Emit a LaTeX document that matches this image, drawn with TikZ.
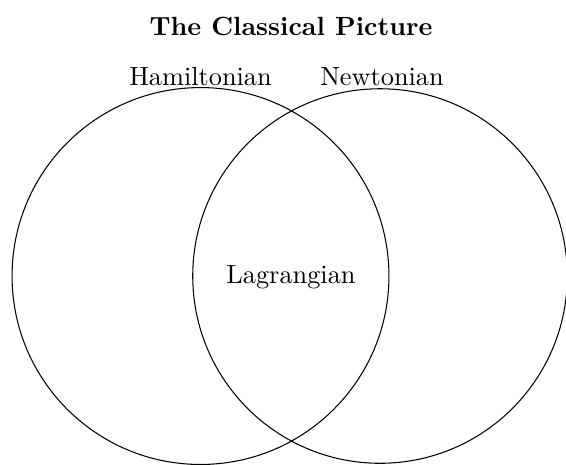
\documentclass[tikz,border=0pt]{standalone}
\begin{document}
\begin{tikzpicture}[x=0.3802pt,y=-0.3802pt,
  lbl/.style={anchor=base, inner sep=0pt},
  ring/.style={draw, circle, inner sep=0pt, line width=0.4pt}]
\useasboundingbox (0,0) rectangle (566,464);
\node[ring, minimum size=143.3pt] (hamc) at (200.5,276) {};
\node[ring, minimum size=142.4pt] (newc) at (380,276) {};
\node[lbl, font=\bfseries] (title) at (291,35) {The Classical Picture};
\node[lbl] (ham) at (200.5,85) {Hamiltonian};
\node[lbl] (new) at (382,85) {Newtonian};
\node[lbl] (lag) at (291,283) {Lagrangian};
\end{tikzpicture}
\end{document}
